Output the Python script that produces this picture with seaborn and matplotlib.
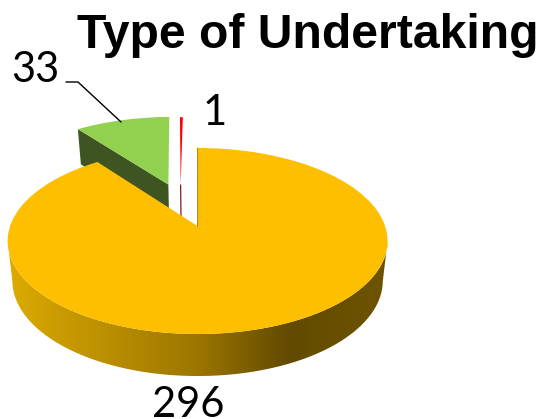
import numpy as np
import matplotlib
matplotlib.use("Agg")
import matplotlib.pyplot as plt
import matplotlib.transforms as mtransforms
from matplotlib.colors import LinearSegmentedColormap
from matplotlib.path import Path
import seaborn as sns

title = "Type of Undertaking"
categories = ["Yellow", "Green", "Red"]
counts = [296, 33, 1]
explode = [0.30, 0.222, 0.205]
colors = ["#FDBF00", "#92D050", "#FF0000"]
wall_colors = ["#8A6A00", "#3E5522", "#6E0000"]
rim_stops = ["#DDAB00", "#C89A00", "#9C7600", "#624A00", "#6E5400"]

sns.set_theme(style="white")


# flat pie coordinates -> 3D looking pixel coordinates, z is 0 on top and 1 at the bottom
class Tilt(mtransforms.Transform):
    input_dims = 2
    output_dims = 2
    is_separable = False
    has_inverse = False

    def __init__(self, z=0.0):
        super().__init__()
        self.z = z

    def transform_non_affine(self, xy):
        xy = np.asarray(xy, dtype=float)
        w = 1 + 0.161 * xy[:, 1]
        px = 197.5 + 187.5 * xy[:, 0] / w * (1 - 0.025 * self.z)
        py = 226 - 90.6 * xy[:, 1] / w + self.z * (39 - 3 * xy[:, 1])
        return np.column_stack([px, py])


fig = plt.figure(figsize=(5.41, 4.19), dpi=100)
ax = fig.add_axes([0, 0, 1, 1])

wedges, _ = ax.pie(counts, explode=explode, center=(-0.095, 0.284), colors=colors,
                   startangle=90, counterclock=False, wedgeprops={"linewidth": 0})
for w, z in zip(wedges, [5, 2, 3]):
    w.set_transform(Tilt(0) + ax.transData)
    w.set_zorder(z)


def edge(w, theta):
    t = np.radians(theta)
    cx, cy = w.center
    return np.array([[cx, cy], [cx + w.r * np.cos(t), cy + w.r * np.sin(t)]])


# yellow rim with the horizontal shading, only the part facing the viewer
yw = wedges[0]
ang = np.radians(np.linspace(yw.theta1, yw.theta2, 400))
arc = np.column_stack([yw.center[0] + yw.r * np.cos(ang), yw.center[1] + yw.r * np.sin(ang)])
arc = arc[arc[:, 1] < -0.16]
arc = arc[np.argsort(arc[:, 0])]
rim = np.vstack([Tilt(0).transform(arc), Tilt(1).transform(arc)[::-1]])
cmap = LinearSegmentedColormap.from_list("rim", list(zip([0, 0.15, 0.5, 0.74, 1], rim_stops)))
img = ax.imshow(np.linspace(0, 1, 256)[None, :], cmap=cmap, aspect="auto",
                extent=(rim[:, 0].min(), rim[:, 0].max(), rim[:, 1].max(), rim[:, 1].min()), zorder=4)
img.set_clip_path(Path(np.vstack([rim, rim[0]])), transform=ax.transData)

# green cut wall
gw = wedges[1]
g_edge = edge(gw, max(gw.theta1, gw.theta2))
wall = np.vstack([Tilt(0).transform(g_edge), Tilt(1).transform(g_edge)[::-1]])
ax.fill(wall[:, 0], wall[:, 1], color=wall_colors[1], lw=0, zorder=1)

# red wall, only a thin line
rw = wedges[2]
r_edge = edge(rw, 90)
r_wall = np.vstack([Tilt(0).transform(r_edge[:1]), Tilt(1).transform(r_edge[:1])])
ax.plot(r_wall[:, 0], r_wall[:, 1], color=wall_colors[2], lw=0.8, zorder=2)

# thin wall along the start of the yellow slice
y_edge = edge(yw, 90)
ax.plot(*Tilt(0).transform(y_edge).T, color=wall_colors[0], lw=0.8, alpha=0.7, zorder=6)

# labels
ax.text(307.5, 48.5, title, family="Liberation Sans", weight="bold", fontsize=34.7,
        ha="center", va="baseline", color="black")
ax.text(35.5, 82, str(counts[1]), family="Lato", fontsize=30, ha="center", va="baseline", color="black")
ax.text(215, 125, str(counts[2]), family="Lato", fontsize=30, ha="center", va="baseline", color="black")
ax.text(188, 416.5, str(counts[0]), family="Lato", fontsize=30, ha="center", va="baseline", color="black")
ax.plot([66, 78, 121], [82, 82, 122], color="black", lw=1, zorder=7)

ax.set_aspect("auto")
ax.set_xlim(0, 541)
ax.set_ylim(419, 0)
ax.axis("off")
fig.savefig("out.png", dpi=100)
